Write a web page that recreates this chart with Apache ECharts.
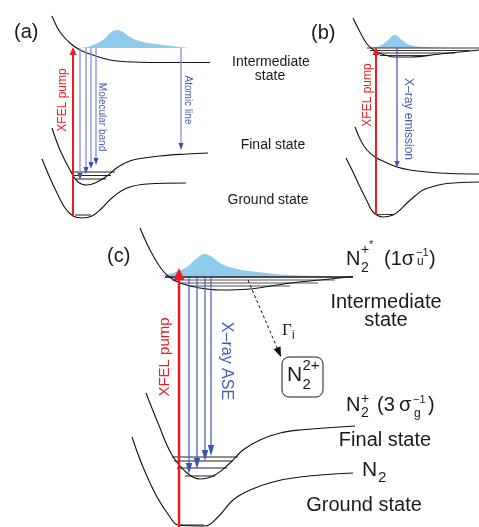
<!DOCTYPE html>
<html>
<head>
<meta charset="utf-8">
<script src="https://cdn.jsdelivr.net/npm/echarts@6/dist/echarts.min.js"></script>
<style>
  html, body { margin: 0; padding: 0; background: #fff; }
  #chart { width: 479px; height: 527px; }
</style>
</head>
<body>
<div id="chart"></div>
<script>
// ---- Potential energy curves, [bond coordinate, energy] in diagram units (energy grows downward) ----
// Panel (a)
const aIntermediate = [[52,16],[60,32],[70,43],[80,50],[93,55],[110,60],[133,62],[170,62.5],[210,62.5]];
const aFinal = [[52,128],[60,150],[70,170],[78,182],[87,185],[97,182],[107,176],[118,167],[133,160],[160,156],[187,154],[208,153]];
const aGround = [[42,159],[50,178],[57,193],[65,208],[73,216],[82,218],[92,216],[102,208],[113,197],[127,188],[147,184],[186,183]];
const aPacket = [[77,48],[87,47],[93,45],[103,40],[110,33],[117,30],[123,32],[130,37],[143,42],[160,44.5],[180,47],[190,48]];
// Panel (b)
const bIntermediate = [[353,18],[360,32],[367,44],[375,51],[385,55],[395,57],[410,57],[440,54],[479,50]];
const bFinal = [[355,127],[361,141],[367,150],[375,157],[385,162],[397,167],[410,170],[427,172],[450,173.5],[479,174]];
const bGround = [[346,158],[353,172],[360,187],[367,201],[373,212],[383,217],[393,215],[400,210],[407,203],[415,196],[423,190],[435,186],[447,183.5],[479,182]];
const bPacket = [[365,48],[377,47],[383,44],[388,40],[395,35],[402,40],[410,45],[427,47],[457,48],[479,48]];
// Panel (c)
const cIntermediate = [[140,228],[150,250],[160,267],[168,276],[180,283],[200,288],[220,290],[250,289],[290,283],[330,279],[353,276.5]];
const cFinal = [[146,393],[158,423],[172,455],[187,473],[200,479],[215,475],[230,463],[243,450],[260,440],[280,433],[300,430],[355,426]];
const cGround = [[132,437],[143,467],[157,497],[170,517],[178,525],[205,526],[218,517],[233,500],[250,490],[273,482],[300,477],[353,473]];
const cPacket = [[158,276],[173,273],[187,267],[197,258],[205,254],[212,257],[220,263],[233,268],[257,272],[290,275],[333,276]];

// ---- Vibrational levels: [left, right, energy] ----
const aLevels = [[71,115,172],[73,111,175.5],[76,106,179],[75,91,215]];
const bLevels = [[367,479,48],[370,470,50.5],[374,455,53],[380,430,55.5],[377,393,214.5]];
const cLevelTop = [[165,353,277]];
const cLevelsI = [[172,335,280],[178,318,283],[190,290,286]];
const cLevelsF = [[172,238,457],[174,233,461],[177,227,468],[185,215,476],[178,204,525]];

// ---- Transitions: [x from, y from, x to, y to] ----
const aPump = [[73,215,73,47]];
const aBand = [[80,48,80,180],[86,48,86,174],[91,48,91,169],[96,48,96,165]];
const aAtomic = [[181,48,181,150]];
const bPump = [[376,215,376,47]];
const bEmission = [[397,48,397,168]];
const cPump = [[179,527,179,268]];
const cASE = [[189,278,189,474],[197,278,197,469],[205,278,205,461],[211,278,211,456]];
const cDecay = [[248,280,281,357]];

const FONT = '"Liberation Sans", Arial, Helvetica, sans-serif';
const SERIF = '"Liberation Serif", "Times New Roman", serif';
const RED = '#ec1c24';
const BLUE = '#4a5cb6';
const PACKET = '#8ecbec';

function curve(points) {
  return { type: 'line', data: points, smooth: 0.4, symbol: 'none', silent: true, z: 4,
           lineStyle: { color: '#111', width: 1.1 } };
}
function packet(points, base) {
  return { type: 'line', data: points, smooth: 0.4, symbol: 'none', silent: true, z: 2,
           lineStyle: { width: 0 }, areaStyle: { color: PACKET, opacity: 1, origin: base } };
}
function levels(data, color, width) {
  return {
    type: 'custom', data, silent: true, z: 3,
    renderItem(params, api) {
      const p1 = api.coord([api.value(0), api.value(2)]);
      const p2 = api.coord([api.value(1), api.value(2)]);
      return { type: 'line', shape: { x1: p1[0], y1: p1[1], x2: p2[0], y2: p2[1] },
               style: { stroke: color, lineWidth: width } };
    }
  };
}
function arrows(data, o) {
  return {
    type: 'custom', data, silent: true, z: o.z || 6,
    renderItem(params, api) {
      const p1 = api.coord([api.value(0), api.value(1)]);
      const p2 = api.coord([api.value(2), api.value(3)]);
      const dx = p2[0] - p1[0], dy = p2[1] - p1[1];
      const len = Math.hypot(dx, dy);
      const ux = dx / len, uy = dy / len;
      const bx = p2[0] - ux * o.headLen, by = p2[1] - uy * o.headLen;
      const nx = -uy * o.headW, ny = ux * o.headW;
      return { type: 'group', children: [
        { type: 'line', shape: { x1: p1[0], y1: p1[1], x2: bx + ux, y2: by + uy },
          style: { stroke: o.color, lineWidth: o.width, lineDash: o.dash || null } },
        { type: 'polygon', shape: { points: [[p2[0], p2[1]], [bx + nx, by + ny], [bx - nx, by - ny]] },
          style: { fill: o.headColor || o.color } }
      ]};
    }
  };
}

function txt(x, y, text, size, extra) {
  extra = extra || {};
  return {
    type: 'text', x, y, rotation: extra.rotation || 0, z: 10,
    style: { text, font: (extra.weight || '') + ' ' + size + 'px ' + (extra.family || FONT),
             fill: extra.color || '#1a1a1a', align: extra.align || 'left', verticalAlign: 'middle' }
  };
}

const texts = [
  // panel tags
  txt(14, 32, '(a)', 20), txt(311, 33, '(b)', 20), txt(107, 256, '(c)', 20),
  // shared state labels for (a)/(b)
  txt(271, 62, 'Intermediate', 14, { align: 'center' }),
  txt(270, 76, 'state', 14, { align: 'center' }),
  txt(273, 145, 'Final state', 14, { align: 'center' }),
  txt(268, 200, 'Ground state', 14, { align: 'center' }),
  // rotated transition labels
  txt(63, 100, 'XFEL pump', 12, { align: 'center', rotation: Math.PI / 2, color: RED }),
  txt(102, 117, 'Molecular band', 10, { align: 'center', rotation: -Math.PI / 2, color: BLUE }),
  txt(188, 100, 'Atomic line', 10, { align: 'center', rotation: -Math.PI / 2, color: BLUE }),
  txt(368, 95, 'XFEL pump', 12, { align: 'center', rotation: Math.PI / 2, color: RED }),
  txt(408, 119, 'X\u2013ray emission', 12, { align: 'center', rotation: -Math.PI / 2, color: BLUE }),
  txt(165, 357, 'XFEL pump', 15, { align: 'center', rotation: Math.PI / 2, color: RED }),
  txt(226, 361, 'X\u2013ray ASE', 16, { align: 'center', rotation: -Math.PI / 2, color: BLUE }),
  // (c) state labels
  txt(346, 259.5, 'N', 20), txt(361, 268, '2', 14), txt(361, 250, '+', 14), txt(369, 245, '*', 11),
  txt(384, 259.5, '(1\u03c3', 20), txt(417, 262, 'u', 12), txt(416, 252.5, '\u22121', 11), txt(429, 259.5, ')', 20),
  txt(386, 302, 'Intermediate', 20, { align: 'center' }),
  txt(386, 320, 'state', 20, { align: 'center' }),
  txt(346, 405.5, 'N', 20), txt(361, 413, '2', 14), txt(361, 399, '+', 14),
  txt(377, 405.5, '(3', 20), txt(399, 405.5, '\u03c3', 20), txt(414, 414, 'g', 12), txt(413, 400, '\u22121', 11),
  txt(428, 405.5, ')', 20),
  txt(385, 440, 'Final state', 20, { align: 'center' }),
  txt(362, 470, 'N', 21), txt(378, 477.5, '2', 15),
  txt(364, 505, 'Ground state', 20, { align: 'center' }),
  // decay channel
  txt(282, 331, '\u0393', 17, { family: SERIF }), txt(292, 336, 'i', 12),
  { type: 'rect', z: 9, shape: { x: 282, y: 357, width: 41, height: 40, r: 7 },
    style: { fill: '#fff', stroke: '#1a1a1a', lineWidth: 1 } },
  txt(287, 375, 'N', 21), txt(302.5, 385, '2', 15), txt(302.5, 366, '2+', 15)
];

const chart = echarts.init(document.getElementById('chart'), null, { renderer: 'canvas' });
chart.setOption({
  animation: false,
  backgroundColor: '#fff',
  grid: { left: 0, right: 0, top: 0, bottom: 0 },
  xAxis: { type: 'value', min: 0, max: 479, show: false },
  yAxis: { type: 'value', min: 0, max: 527, inverse: true, show: false },
  series: [
    packet(aPacket, 48), packet(bPacket, 48), packet(cPacket, 276),
    curve(aIntermediate), curve(aFinal), curve(aGround),
    curve(bIntermediate), curve(bFinal), curve(bGround),
    curve(cIntermediate), curve(cFinal), curve(cGround),
    levels(aLevels, '#222', 1), levels(bLevels, '#333', 1),
    levels(cLevelTop, '#111', 1.3), levels(cLevelsI, '#555', 1.2), levels(cLevelsF, '#222', 1),
    arrows(aPump, { color: RED, width: 2, headLen: 8, headW: 3.5 }),
    arrows(aBand, { color: '#8490d2', headColor: '#3550ad', width: 1.3, headLen: 7, headW: 2.5 }),
    arrows(aAtomic, { color: '#8490d2', headColor: '#3550ad', width: 1.3, headLen: 7, headW: 2.5 }),
    arrows(bPump, { color: RED, width: 2, headLen: 8, headW: 3.5 }),
    arrows(bEmission, { color: BLUE, width: 1.3, headLen: 7, headW: 2.8 }),
    arrows(cPump, { color: RED, width: 2.5, headLen: 12, headW: 5.5 }),
    arrows(cASE, { color: '#4f63bd', headColor: '#3a55b2', width: 1.3, headLen: 11, headW: 3.2 }),
    arrows(cDecay, { color: '#111', width: 1, headLen: 10, headW: 3.8, dash: [3, 2.5] })
  ],
  graphic: { elements: texts }
});
</script>
</body>
</html>
